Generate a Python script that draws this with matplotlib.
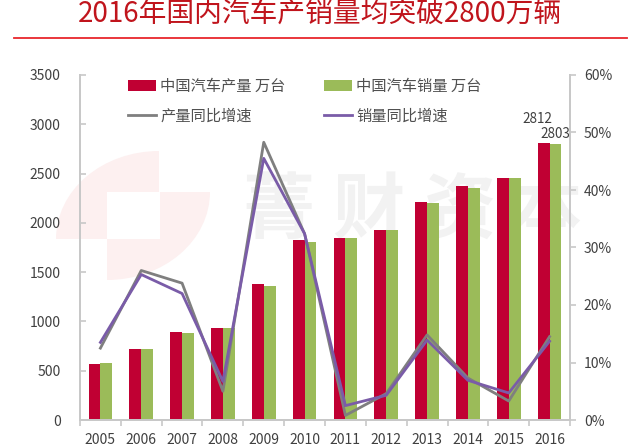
import numpy as np
import matplotlib
matplotlib.use("Agg")
import matplotlib.pyplot as plt
from matplotlib.patches import Ellipse, Rectangle

plt.rcParams['font.family'] = ['Noto Sans CJK SC', 'DejaVu Sans']

years = ['2005', '2006', '2007', '2008', '2009', '2010', '2011', '2012', '2013', '2014', '2015', '2016']
production = [570, 720, 888, 930, 1379, 1827, 1842, 1927, 2212, 2372, 2450, 2812]
sales = [576, 722, 879, 938, 1364, 1806, 1851, 1931, 2198, 2349, 2460, 2803]
prod_growth = [12.5, 26, 23.8, 5, 48.3, 32.4, 0.8, 4.6, 14.8, 7.3, 3.3, 14.5]
sales_growth = [13.5, 25.3, 22, 6.7, 45.5, 32.4, 2.5, 4.3, 13.9, 6.9, 4.7, 13.7]

W, H = 640, 448
fig = plt.figure(figsize=(W / 100, H / 100), dpi=100)
ax = fig.add_axes([80 / W, 1 - 420 / H, 490 / W, 345 / H])
ax2 = ax.twinx()

x = np.arange(len(years))
bw = 0.29
ax.bar(x - bw / 2, production, bw, color='#c00033', label='中国汽车产量 万台', zorder=2)
ax.bar(x + bw / 2, sales, bw, color='#9bbb59', label='中国汽车销量 万台', zorder=2)
ax2.plot(x, prod_growth, color='#7f7f7f', lw=2, label='产量同比增速', zorder=3)
ax2.plot(x, sales_growth, color='#7a5ca8', lw=2, label='销量同比增速', zorder=4)

ax.set_xlim(-0.5, 11.5)
ax.set_ylim(0, 3500)
ax2.set_ylim(0, 60)
ax.set_yticks(range(0, 3501, 500))
ax2.set_yticks(range(0, 61, 10))
ax2.set_yticklabels([str(v) + '%' for v in range(0, 61, 10)])
ax.set_xticks(x)
ax.set_xticklabels(years)
ax.set_xticks(np.arange(-0.5, 12, 1), minor=True)

for a in (ax, ax2):
    a.spines['top'].set_visible(False)
    for s in a.spines.values():
        s.set_color('#c8c8c8')
        s.set_linewidth(1.4)
    a.patch.set_visible(False)
ax.tick_params(axis='x', which='major', length=0, pad=9, labelsize=10, labelcolor='#404040')
ax.tick_params(axis='x', which='minor', length=4, color='#c8c8c8', width=1.2)
ax.tick_params(axis='y', direction='in', length=4, color='#c8c8c8', width=1.2, pad=14, labelsize=10, labelcolor='#404040')
ax2.tick_params(axis='y', direction='out', length=4, color='#c8c8c8', width=1.2, pad=6, labelsize=10, labelcolor='#404040')

ax.text(10.71, 3054, '2812', ha='center', va='center', fontsize=9.7, color='#404040', zorder=6)
ax.text(11.15, 2901, '2803', ha='center', va='center', fontsize=9.7, color='#404040', zorder=6)

# watermark behind the chart
bg = fig.add_axes([0, 0, 1, 1], zorder=-1)
bg.set_xlim(0, W)
bg.set_ylim(H, 0)
bg.axis('off')
for cx, cy, rx, ry in [(159, 239, 56, 151), (107, 192, 107, 192)]:
    e = Ellipse((cx, cy), 206, 176, facecolor='#fdf0f0', edgecolor='none')
    bg.add_patch(e)
    e.set_clip_path(Rectangle((rx, ry), 103, 88, transform=bg.transData))
bg.add_patch(Rectangle((107, 192), 53, 47, facecolor='white', edgecolor='none'))
for cx, ch in zip([278, 368, 460, 545], '菁财资本'):
    bg.text(cx, 212, ch, ha='center', va='center', fontsize=52, fontweight='bold', color='#f2f2f2')

# title and rule
fig.text(320 / W, 1 - 15 / H, '2016年国内汽车产销量均突破2800万辆', ha='center', va='center',
         fontsize=20, fontweight='medium', color='#c0141c')
bg.plot([14, 627], [38, 38], color='#e8262c', lw=1.3)

h1, l1 = ax.get_legend_handles_labels()
h2, l2 = ax2.get_legend_handles_labels()
handles = h1 + h2
labels = l1 + l2
order = [0, 2, 1, 3]
ax2.legend([handles[i] for i in order], [labels[i] for i in order], ncol=2, frameon=False,
           loc='upper left', bbox_to_anchor=(0.098, 0.991), fontsize=11, labelcolor='#505050',
           handlelength=1.85, handletextpad=0.26, columnspacing=2.5, labelspacing=0.8,
           borderaxespad=0, borderpad=0)

fig.savefig('out.png', dpi=100)
